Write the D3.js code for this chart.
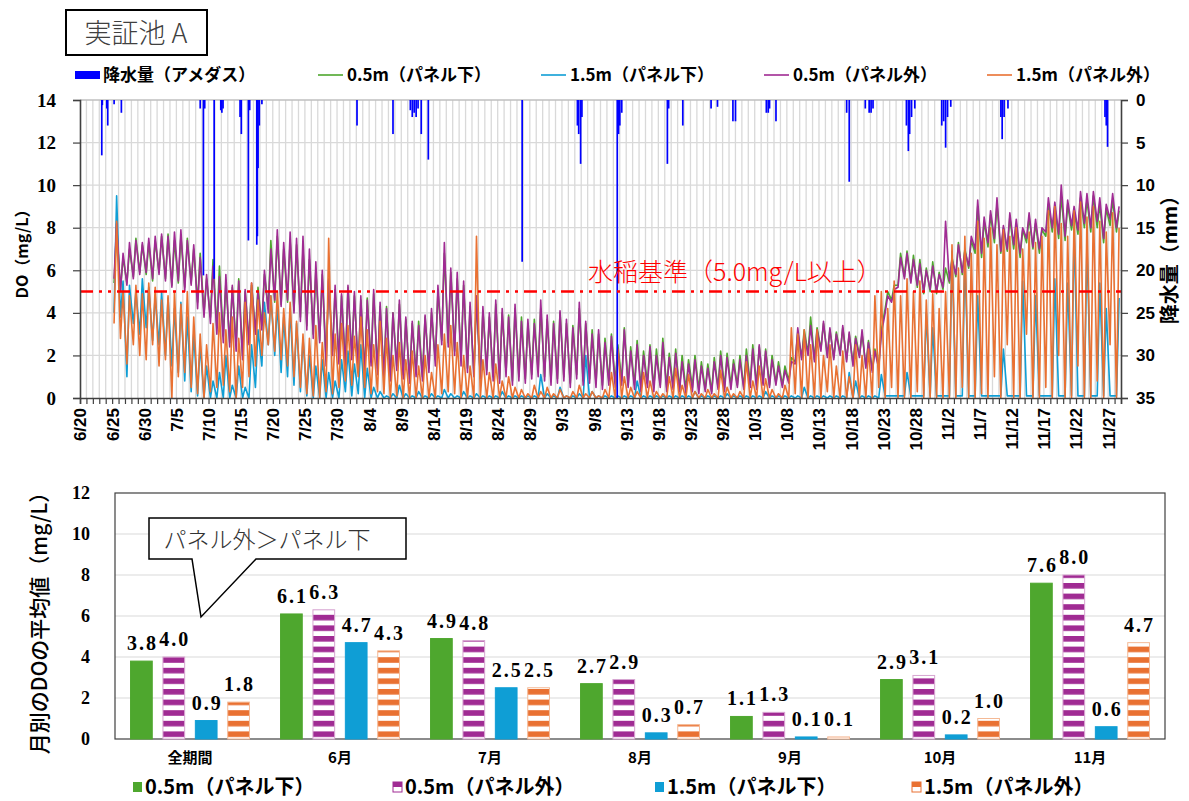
<!DOCTYPE html>
<html>
<head>
<meta charset="utf-8">
<script src="https://cdn.jsdelivr.net/npm/d3@7"></script>
<style>
  body { margin: 0; background: #fff; }
  svg { display: block; }
  text { font-family: "Noto Sans CJK JP", sans-serif; }
</style>
</head>
<body>
<svg id="chart" width="1189" height="801"></svg>
<script>
// ---------------- data ----------------
// top chart: day offsets from 6/20, DO sampled as daily trough / peak (days 5..161)
var startDate = new Date(2023, 5, 20);
var firstDay = 5;

var purpleHi = [8.2,6.8,7.3,7.4,7.3,7.5,7.6,7.7,7.6,7.8, 7.9,7.4,7.2,6.6,5.8,6.2,5.7,5.8,5.3,5.5,
  5.1,5.4,5.0,6.0,7.0,7.9,7.3,7.8,7.5,7.6, 7.0,6.4,6.0,5.6,5.3,4.9,5.3,5.0,4.8,4.6,
  5.1,4.5,4.2,4.0,4.6,3.8,3.6,3.4,3.9,4.2, 5.3,7.3,6.1,5.9,5.5,4.5,4.8,4.3,4.0,4.6,
  4.2,3.8,4.4,3.6,3.7,3.5,4.6,3.9,3.5,4.1, 3.7,3.3,4.5,3.6,3.0,3.2,2.6,2.9,2.3,3.2,
  2.2,2.5,2.0,2.4,2.0,2.6,1.9,2.1,1.7,1.6, 1.8,1.5,1.4,1.7,2.0,1.9,1.6,1.8,2.0,2.3,
  2.5,2.2,1.8,1.5,1.3,1.7,3.3,3.0,3.4,3.2, 3.6,3.3,3.0,3.4,3.1,2.8,3.2,2.6,2.2,3.0,
  4.8,5.1,6.6,6.8,6.5,6.3,6.0,6.2,5.8,8.3, 6.5,7.2,6.9,7.6,9.3,8.5,8.8,9.4,8.1,8.7,
  8.4,8.0,8.7,8.4,8.0,9.4,9.2,10.0,9.3,9.0, 9.7,9.6,9.7,9.4,9.1,9.6,9.0];
var purpleLo = [5.6,5.0,5.3,5.6,5.8,5.9,5.6,5.8,5.5,5.2, 5.5,5.0,5.3,4.2,3.8,3.5,3.0,2.6,2.4,2.2,
  1.8,2.5,3.0,3.2,4.0,4.6,4.3,4.6,4.0,3.6, 3.2,2.8,2.6,1.5,2.0,1.6,1.4,1.8,1.2,1.0,
  1.5,1.1,0.9,0.8,1.3,0.9,0.7,1.0,0.8,1.2, 1.5,2.5,2.4,2.0,1.5,1.2,1.0,0.9,1.1,0.8,
  0.7,1.0,0.6,0.8,0.7,0.9,1.0,0.8,0.6,0.7, 0.8,0.5,0.9,0.6,0.7,0.5,0.4,0.6,0.5,0.6,
  0.5,0.4,0.3,0.5,0.3,0.5,0.3,0.4,0.3,0.2, 0.3,0.2,0.3,0.2,0.4,0.3,0.4,0.5,0.4,0.5,
  0.4,0.6,0.5,0.6,0.5,0.7,1.6,1.8,2.0,1.7, 2.2,1.9,1.8,2.0,1.7,1.5,1.9,1.4,1.2,1.4,
  4.0,4.5,5.2,5.6,5.4,5.3,5.0,5.1,5.0,5.2, 5.5,5.8,5.9,6.2,7.0,6.8,7.3,7.5,6.9,7.0,
  7.2,6.8,7.5,7.1,7.0,7.8,8.0,7.7,7.6,8.1, 7.9,8.2,8.0,8.3,7.5,8.4,8.0];

var greenHi = [8.0,6.6,7.0,7.5,7.2,7.3,7.4,7.6,7.7,7.4, 7.6,7.5,7.0,6.8,5.6,6.5,6.2,5.4,5.2,5.6,
  5.0,5.3,5.2,5.8,7.4,7.6,7.0,7.4,7.2,7.0, 6.5,6.0,5.8,5.5,5.1,4.8,5.2,4.8,4.6,4.7,
  4.9,4.3,4.3,4.0,4.4,3.7,3.5,3.6,3.8,4.0, 5.0,6.8,5.9,5.6,5.3,4.3,4.6,4.1,3.8,4.4,
  4.0,3.9,4.2,3.8,3.5,3.7,4.2,3.7,3.6,4.0, 3.5,3.4,4.2,3.5,3.2,3.0,2.8,3.0,2.5,3.3,
  2.4,2.7,2.2,2.5,2.3,2.8,2.1,2.3,2.0,1.8, 2.0,1.7,1.6,1.9,2.2,2.1,1.8,2.0,2.3,2.5,
  2.4,2.3,2.0,1.7,1.5,1.9,3.1,3.2,3.8,3.3, 3.5,3.2,3.1,3.3,3.0,2.9,3.0,2.7,2.3,3.2,
  5.0,5.3,6.8,6.9,6.7,6.5,6.1,6.4,5.9,6.1, 6.6,7.3,7.0,7.4,9.0,8.3,8.6,9.1,8.0,8.5,
  8.2,7.9,8.5,8.2,7.9,9.1,9.0,9.5,9.1,8.8, 9.4,9.3,9.5,9.1,8.9,9.3,8.8];
var greenLo = [5.4,5.1,5.4,5.7,5.9,5.8,5.5,5.9,5.6,5.3, 5.4,5.2,5.4,4.5,4.0,3.8,3.3,2.9,2.6,2.5,
  2.0,2.7,3.1,3.4,4.2,4.5,4.4,4.5,4.1,3.8, 3.4,3.0,2.7,1.8,2.2,1.9,1.6,2.0,1.4,1.2,
  1.7,1.4,1.1,1.0,1.5,1.1,0.9,1.2,1.0,1.4, 1.8,2.7,2.6,2.2,1.8,1.4,1.2,1.0,1.3,1.0,
  0.9,1.2,0.8,1.0,0.9,1.1,1.3,1.0,0.8,0.9, 1.0,0.7,1.1,0.8,0.9,0.7,0.6,0.8,0.7,0.8,
  0.6,0.6,0.5,0.7,0.5,0.6,0.5,0.6,0.4,0.4, 0.5,0.4,0.4,0.3,0.5,0.5,0.6,0.6,0.5,0.7,
  0.6,0.7,0.6,0.7,0.6,0.8,1.7,1.9,2.1,1.8, 2.3,2.0,1.9,2.1,1.8,1.6,2.0,1.5,1.3,1.5,
  4.2,4.6,5.3,5.7,5.5,5.2,4.9,5.0,4.9,5.1, 5.4,5.7,5.8,6.1,6.8,6.6,7.1,7.3,6.8,6.9,
  7.0,6.6,7.3,7.0,6.8,7.6,7.8,7.5,7.4,7.9, 7.7,8.0,7.8,8.0,7.3,8.1,7.8];

var blueHi = [9.5,5.5,5.3,5.0,5.6,5.2,4.8,5.0,4.7,4.2, 4.5,3.8,3.0,2.5,1.5,0.8,1.2,2.0,0.6,1.5,
  0.5,2.5,3.2,4.5,4.8,4.4,3.8,4.2,3.5,2.8, 2.0,1.5,1.8,1.2,0.8,1.8,2.2,1.6,2.5,1.4,
  0.5,0.3,0.1,0.2,0.6,0.2,0.1,0.3,0.1,0.2, 0.1,0.4,0.2,0.1,0.3,0.1,0.2,0.1,0.1,0.1,
  0.3,0.1,0.1,0.1,0.1,0.1,1.1,0.2,0.1,0.5, 0.1,0.1,0.2,2.0,0.3,0.1,0.1,0.1,0.1,0.1,
  0.1,0.8,0.1,0.1,0.1,0.1,0.1,0.1,0.1,0.1, 0.3,0.1,0.1,0.1,0.1,0.2,0.1,0.1,0.1,0.1,
  0.1,0.3,0.1,0.1,0.1,0.1,0.1,0.5,0.1,0.1, 0.1,0.1,0.1,0.1,1.2,0.8,0.1,0.1,0.1,1.1,
  0.1,0.1,0.1,1.2,0.1,0.1,4.0,3.3,0.1,0.1, 6.9,0.1,6.7,0.1,4.8,0.1,0.1,0.1,2.3,0.1,
  0.1,5.5,0.1,4.8,0.1,0.1,5.6,0.1,5.4,8.0, 0.1,7.2,0.1,5.4,4.2,0.1,4.7];
var blueLo = [4.0,3.8,1.0,3.5,3.0,3.3,2.7,2.5,2.0,1.5, 1.2,0.8,0.3,0.1,0,0,0,0,0,0,
  0,0,0.5,1.5,2.5,2.0,1.2,1.0,0.6,0.3, 0.1,0,0,0,0,0,0.3,0.1,0.2,0,
  0,0,0,0,0,0,0,0,0,0, 0,0,0,0,0,0,0,0,0,0,
  0,0,0,0,0,0,0,0,0,0, 0,0,0,0,0,0,0,0,0,0,
  0,0,0,0,0,0,0,0,0,0, 0,0,0,0,0,0,0,0,0,0,
  0,0,0,0,0,0,0,0,0,0, 0,0,0,0,0,0,0,0,0,0,
  0.1,0.1,0.1,0.1,0.1,0.1,0.1,0.1,0.1,0.1, 0.1,0.1,0.1,0.1,0.1,0.1,0.1,0.1,0.1,0.1,
  0.1,0.1,0.1,0.1,0.1,0.1,0.1,0.1,0.1,0.1, 0.1,0.1,0.1,0.1,0.1,0.1,0.1];

var orangeHi = [8.3,5.0,4.8,5.3,4.9,5.4,5.2,4.6,4.8,5.0, 4.4,5.0,3.8,3.0,2.5,3.5,4.0,3.2,3.8,2.8,
  4.5,5.4,4.6,4.0,4.8,5.0,4.2,4.5,3.6,3.0, 2.8,3.4,2.6,7.5,3.0,3.5,3.4,2.9,3.8,3.2,
  2.5,3.6,2.8,2.0,2.6,1.8,2.2,1.5,2.0,1.2, 2.5,3.0,3.4,2.6,2.0,1.5,7.6,1.8,1.2,1.6,
  0.8,1.0,0.5,0.4,0.2,0.6,0.3,0.5,0.2,0.4, 0.1,0.3,0.6,0.2,0.3,0.1,0.4,1.2,2.3,1.0,
  0.5,0.3,1.2,0.8,0.3,0.2,1.0,1.4,0.6,1.1, 0.3,0.2,0.4,0.2,1.3,0.5,0.2,0.3,1.7,0.8,
  1.5,0.9,0.4,0.2,0.6,3.3,3.0,3.2,2.5,3.2, 2.0,2.5,1.5,2.2,1.0,2.5,2.0,2.3,4.8,5.0,
  4.2,5.5,4.8,5.6,5.0,5.5,4.6,4.9,4.2,5.0, 7.2,6.1,7.6,6.8,8.3,7.5,8.0,7.2,7.9,7.6,
  8.0,7.0,7.8,7.3,7.6,8.8,9.0,8.2,7.6,8.8, 9.2,8.5,9.0,8.3,7.8,8.7,8.0];
var orangeLo = [3.5,2.8,1.6,2.5,2.0,1.8,2.5,1.5,1.8,0, 1.0,1.2,0.5,0.2,0,0.3,0.5,0.6,0.3,0,
  0.5,1.0,1.5,2.0,2.5,2.2,1.8,1.5,1.0,0.5, 0.2,0.1,0,0.3,0.2,0.5,0.8,0.6,1.0,0.5,
  0.2,0.3,0.2,0,0.1,0,0,0,0,0, 0,0.2,0.3,0.2,0,0,0,0,0,0,
  0,0,0,0,0,0,0,0,0,0, 0,0,0,0,0,0,0,0,0,0,
  0,0,0,0,0,0,0,0,0,0, 0,0,0,0,0,0,0,0,0,0,
  0,0,0,0,0,0,0.2,0,0,0, 0,0.3,0,0,0,0,0,0,0,0.5,
  0,0.5,0,0,0,0.3,0,0,0,0, 0,0,0.5,0,0,0.2,0,1.0,0,2.5,
  0,0,3.0,0,0,0.5,0,2.0,0,0, 1.5,0,0,0.8,0,2.5,0];

// rainfall events: [day offset from 6/20, mm]
var rainEvents = [[3.38,6.5],[3.47,0.6],[4.16,1.0],[4.31,3.0],[5.3,0.5],[6.43,1.5],
  [18.7,1.0],[19.2,20.6],[19.4,1.0],[20.87,21.0],[21.9,1.2],[22.07,1.5],[22.25,1.0],
  [24.9,2.0],[25.1,4.0],[26.2,16.5],[26.4,1.2],[27.5,17.0],[27.6,16.0],[27.7,8.0],[27.9,3.0],[28.3,0.5],
  [43.1,3.0],[48.7,4.0],[51.4,1.2],[51.7,2.0],[52.0,1.5],[52.3,2.0],[52.6,1.0],[53.1,4.0],[54.2,7.0],
  [68.8,19.0],[77.4,3.0],[77.6,4.0],[77.9,7.5],[78.1,2.0],[83.6,35],[83.8,4.0],[84.0,3.0],[84.3,1.5],
  [91.4,7.5],[91.6,1.0],[93.8,3.0],[98.2,1.0],[99.2,0.8],[101.6,2.5],[102.0,2.5],
  [106.8,1.5],[107.1,1.5],[107.3,1.0],[108.3,2.5],[119.3,1.5],[119.7,9.6],
  [122.2,1.0],[122.8,1.5],[123.1,1.5],[123.4,1.0],
  [128.6,3.0],[128.9,6.0],[129.1,4.0],[129.4,2.0],[129.9,1.0],
  [134.1,3.0],[134.4,2.5],[134.7,5.6],[135.0,2.0],[135.5,0.8],
  [143.3,2.0],[143.5,4.6],[143.8,2.0],[144.4,1.0],[159.5,2.0],[159.7,3.0],[159.9,5.5]];

// bottom chart: monthly averages
var months = ["全期間", "6月", "7月", "8月", "9月", "10月", "11月"];
var avgGreen  = [3.8, 6.1, 4.9, 2.7, 1.1, 2.9, 7.6];
var avgPurple = [4.0, 6.3, 4.8, 2.9, 1.3, 3.1, 8.0];
var avgBlue   = [0.9, 4.7, 2.5, 0.3, 0.1, 0.2, 0.6];
var avgOrange = [1.8, 4.3, 2.5, 0.7, 0.1, 1.0, 4.7];

var seriesNames = ["0.5m（パネル下）", "0.5m（パネル外）", "1.5m（パネル下）", "1.5m（パネル外）"];

// ---------------- drawing ----------------
var svg = d3.select("#chart");
var cGreen = "#4EA72E", cBlue = "#0F9ED5", cPurple = "#A02B93", cOrange = "#E97132", cRain = "#0000FF";
var axisCol = "#404040", gridCol = "#d9d9d9";
var fmt = d3.timeFormat("%-m/%-d");

var defs = svg.append("defs");
function stripe(id, col) {
  var p = defs.append("pattern").attr("id", id)
    .attr("patternUnits", "userSpaceOnUse").attr("width", 10).attr("height", 10.6);
  p.append("rect").attr("width", 10).attr("height", 10.6).attr("fill", "#fff");
  p.append("rect").attr("width", 10).attr("height", 5.6).attr("fill", col);
}
stripe("stripePurple", cPurple);
stripe("stripeOrange", cOrange);

// title box
svg.append("rect").attr("x", 66).attr("y", 10).attr("width", 141).attr("height", 45)
  .attr("fill", "#fff").attr("stroke", "#000").attr("stroke-width", 2);
svg.append("text").attr("x", 136).attr("y", 43).attr("text-anchor", "middle")
  .style("font-size", "27px").style("font-weight", 300).attr("fill", "#404040")
  .text("実証池 A");

// ===== top chart =====
var plotA = {left: 80, right: 1121, top: 100, bottom: 398};
var x = d3.scaleLinear().domain([0, 162]).range([plotA.left, plotA.right]);
var y = d3.scaleLinear().domain([0, 14]).range([plotA.bottom, plotA.top]);
var yRain = d3.scaleLinear().domain([0, 35]).range([plotA.top, plotA.bottom]);

var gA = svg.append("g");

// grid
gA.selectAll("line.vg").data(d3.range(1, 162)).enter().append("line")
  .attr("x1", d => x(d)).attr("x2", d => x(d))
  .attr("y1", plotA.top).attr("y2", plotA.bottom)
  .attr("stroke", gridCol).attr("stroke-width", 1.3);
gA.selectAll("line.hg").data(d3.range(2, 15, 2)).enter().append("line")
  .attr("x1", plotA.left).attr("x2", plotA.right)
  .attr("y1", d => y(d)).attr("y2", d => y(d))
  .attr("stroke", d => d === 14 ? "#bfbfbf" : gridCol).attr("stroke-width", 1.3);

// DO lines
function toPoints(lo, hi) {
  var pts = [];
  lo.forEach(function (v, i) {
    var d = firstDay + i;
    pts.push({t: d + 0.3, v: v});
    pts.push({t: d + 0.7, v: hi[i]});
  });
  return pts;
}
var line = d3.line().x(p => x(p.t)).y(p => y(p.v));
var doSeries = [
  {col: cGreen, pts: toPoints(greenLo, greenHi)},
  {col: cBlue, pts: toPoints(blueLo, blueHi)},
  {col: cPurple, pts: toPoints(purpleLo, purpleHi)},
  {col: cOrange, pts: toPoints(orangeLo, orangeHi)}
];
doSeries.forEach(function (s) {
  gA.append("path").datum(s.pts).attr("d", line)
    .attr("fill", "none").attr("stroke", s.col).attr("stroke-width", 1.6)
    .attr("stroke-linejoin", "round");
});

// rain bars (secondary axis, hanging from top)
gA.selectAll("rect.rain").data(rainEvents).enter().append("rect")
  .attr("x", d => x(d[0]) - 0.8).attr("width", 1.7)
  .attr("y", plotA.top)
  .attr("height", d => yRain(Math.min(d[1], 35)) - plotA.top)
  .attr("fill", cRain);

// 5.0 mg/L reference line
gA.append("line").attr("x1", plotA.left).attr("x2", plotA.right)
  .attr("y1", y(5)).attr("y2", y(5))
  .attr("stroke", "#FF0000").attr("stroke-width", 2.5)
  .attr("stroke-dasharray", "13,6,3,6,3,6");
gA.append("text").attr("x", 588).attr("y", 281)
  .style("font-size", "25px").style("font-weight", 300).attr("fill", "#FF0000")
  .text("水稲基準（5.0mg/L以上）");

// axes
var xAxis = d3.axisBottom(x).tickValues(d3.range(0, 163)).tickSize(6)
  .tickFormat(d => d % 5 === 0 && d <= 160 ? fmt(d3.timeDay.offset(startDate, d)) : "");
var gx = gA.append("g").attr("transform", "translate(0," + plotA.bottom + ")").call(xAxis);
gx.selectAll("text").attr("transform", "rotate(-90)").attr("text-anchor", "end")
  .attr("x", -10).attr("y", 0).attr("dy", "0.35em")
  .style("font-family", "'Liberation Sans', Arial, sans-serif")
  .style("font-size", "17px").style("font-weight", "bold").attr("fill", "#000");

var gyl = gA.append("g").attr("transform", "translate(" + plotA.left + ",0)")
  .call(d3.axisLeft(y).tickValues(d3.range(0, 15, 2)).tickSize(7).tickPadding(17));
gyl.selectAll("text").style("font-family", "'Liberation Serif', serif")
  .style("font-size", "19px").style("font-weight", "bold").attr("fill", "#000");

var gyr = gA.append("g").attr("transform", "translate(" + plotA.right + ",0)")
  .call(d3.axisRight(yRain).tickValues(d3.range(0, 36, 5)).tickSize(7).tickPadding(8));
gyr.selectAll("text").style("font-family", "'Liberation Sans', Arial, sans-serif")
  .style("font-size", "17px").style("font-weight", "bold").attr("fill", "#000");

[gx, gyl, gyr].forEach(function (g) {
  g.select(".domain").attr("stroke", axisCol).attr("stroke-width", 1.6);
  g.selectAll(".tick line").attr("stroke", axisCol).attr("stroke-width", 1.2);
});

// axis titles
svg.append("text").attr("transform", "translate(28,250) rotate(-90)")
  .attr("text-anchor", "middle").style("font-size", "16px").style("font-weight", "bold")
  .text("DO（mg/L）");
svg.append("text").attr("transform", "translate(1177,255) rotate(-90)")
  .attr("text-anchor", "middle").style("font-size", "20px").style("font-weight", "bold")
  .text("降水量（mm）");

// top legend
var legA = svg.append("g").style("font-size", "17px").style("font-weight", "bold");
legA.append("rect").attr("x", 75).attr("y", 71).attr("width", 25).attr("height", 8).attr("fill", cRain);
legA.append("text").attr("x", 103).attr("y", 81).text("降水量（アメダス）");
var legItems = [
  {name: seriesNames[0], col: cGreen},
  {name: seriesNames[2], col: cBlue},
  {name: seriesNames[1], col: cPurple},
  {name: seriesNames[3], col: cOrange}
];
legItems.forEach(function (it, i) {
  var lx = 318 + i * 223;
  legA.append("line").attr("x1", lx).attr("x2", lx + 25).attr("y1", 75).attr("y2", 75)
    .attr("stroke", it.col).attr("stroke-width", 1.6);
  legA.append("text").attr("x", lx + 29).attr("y", 81).text(it.name);
});

// ===== bottom chart =====
var plotB = {left: 115, right: 1165, top: 493, bottom: 739};
var y2 = d3.scaleLinear().domain([0, 12]).range([plotB.bottom, plotB.top]);
var x0 = d3.scaleBand().domain(months).range([plotB.left, plotB.right]);
var keys = ["g", "p", "b", "o"];
var x1 = d3.scaleBand().domain(keys).range([0, x0.bandwidth()]).paddingInner(0.33).paddingOuter(0.48);
var barVals = {g: avgGreen, p: avgPurple, b: avgBlue, o: avgOrange};
var barFill = {g: cGreen, p: "url(#stripePurple)", b: cBlue, o: "url(#stripeOrange)"};
var barStroke = {g: cGreen, p: "#d7a6d1", b: cBlue, o: "#f4b995"};

var gB = svg.append("g");
gB.selectAll("line.hg2").data(d3.range(2, 12, 2)).enter().append("line")
  .attr("x1", plotB.left).attr("x2", plotB.right)
  .attr("y1", d => y2(d)).attr("y2", d => y2(d))
  .attr("stroke", gridCol).attr("stroke-width", 1.2);
gB.append("rect").attr("x", plotB.left).attr("y", plotB.top)
  .attr("width", plotB.right - plotB.left).attr("height", plotB.bottom - plotB.top)
  .attr("fill", "none").attr("stroke", axisCol).attr("stroke-width", 1.2);

var cells = [];
months.forEach(function (m, i) {
  keys.forEach(function (k) { cells.push({m: m, k: k, v: barVals[k][i]}); });
});
gB.selectAll("rect.bar").data(cells).enter().append("rect")
  .attr("x", d => x0(d.m) + x1(d.k)).attr("width", x1.bandwidth())
  .attr("y", d => y2(d.v)).attr("height", d => y2(0) - y2(d.v))
  .attr("fill", d => barFill[d.k]).attr("stroke", d => barStroke[d.k]).attr("stroke-width", 1);
gB.selectAll("text.val").data(cells).enter().append("text")
  .attr("x", d => x0(d.m) + x1(d.k) + x1.bandwidth() / 2 + 1)
  .attr("y", d => y2(d.v) - 11).attr("text-anchor", "middle")
  .style("font-family", "'Liberation Serif', serif").style("font-size", "20px")
  .style("font-weight", "bold").style("letter-spacing", "2px")
  .text(d => d.v.toFixed(1));

var gy2 = gB.append("g").attr("transform", "translate(" + plotB.left + ",0)")
  .call(d3.axisLeft(y2).tickValues(d3.range(0, 13, 2)).tickSize(0).tickPadding(25));
gy2.select(".domain").remove();
gy2.selectAll("text").style("font-family", "'Liberation Serif', serif")
  .style("font-size", "18px").style("font-weight", "bold").attr("fill", "#000");

var gx2 = gB.append("g").attr("transform", "translate(0," + plotB.bottom + ")")
  .call(d3.axisBottom(x0).tickSize(0).tickPadding(13));
gx2.select(".domain").remove();
gx2.selectAll("text").style("font-size", "15px").style("font-weight", "bold").attr("fill", "#000");

svg.append("text").attr("transform", "translate(47,618) rotate(-90)")
  .attr("text-anchor", "middle").style("font-size", "21px").style("font-weight", 500)
  .text("月別のDOの平均値（mg/L）");

// callout
svg.append("path")
  .attr("d", "M149,518 H406 V559 H256 L201,617 L192,559 H149 Z")
  .attr("fill", "#fff").attr("stroke", "#000").attr("stroke-width", 1.5);
svg.append("text").attr("x", 267).attr("y", 548).attr("text-anchor", "middle")
  .style("font-size", "23px").style("font-weight", 300).attr("fill", "#333")
  .text("パネル外＞パネル下");

// bottom legend
var legB = svg.append("g").style("font-size", "20px").style("font-weight", "bold");
var legBItems = [
  {name: seriesNames[0], col: cGreen, striped: false, x: 133},
  {name: seriesNames[1], col: cPurple, striped: true, x: 393},
  {name: seriesNames[2], col: cBlue, striped: false, x: 655},
  {name: seriesNames[3], col: cOrange, striped: true, x: 912}
];
legBItems.forEach(function (it) {
  if (it.striped) {
    legB.append("rect").attr("x", it.x).attr("y", 782).attr("width", 9).attr("height", 10)
      .attr("fill", "#fff").attr("stroke", it.col).attr("stroke-width", 1);
    legB.append("rect").attr("x", it.x).attr("y", 782).attr("width", 9).attr("height", 5)
      .attr("fill", it.col);
  } else {
    legB.append("rect").attr("x", it.x).attr("y", 782).attr("width", 9).attr("height", 10)
      .attr("fill", it.col);
  }
  legB.append("text").attr("x", it.x + 12).attr("y", 794).text(it.name);
});
</script>
</body>
</html>
